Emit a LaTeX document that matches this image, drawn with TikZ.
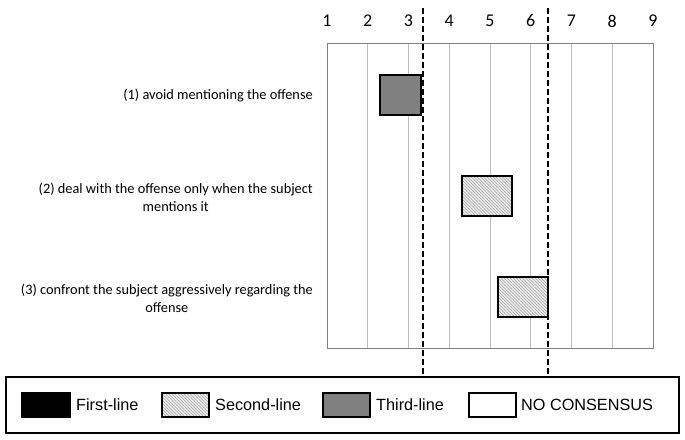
\documentclass[tikz,border=0pt]{standalone}
\usepackage{fontspec}
\setmainfont{Carlito}
\newfontfamily\legendfont{Liberation Sans}
\usetikzlibrary{patterns.meta}
\begin{document}
\begin{tikzpicture}[x=1bp,y=-1bp,
  gridline/.style={draw=black!25, line width=0.8bp},
  frameline/.style={draw=black!50, line width=1bp},
  numlabel/.style={font=\fontsize{18}{21}\selectfont, inner sep=0pt},
  rowlabel/.style={font=\fontsize{14.4}{18}\selectfont, align=center, anchor=east, inner sep=0pt},
  cutline/.style={line width=1.8bp, dash pattern=on 6bp off 3bp},
  thirdbox/.style={draw=black, line width=2bp, fill=black!50},
  secondbox/.style={draw=black, line width=2bp, preaction={fill=black!8},
     pattern={Lines[angle=-45,distance=2.2bp,line width=0.35bp]}, pattern color=black!45},
  firstbox/.style={draw=black, line width=1.5bp, fill=black},
  nobox/.style={draw=black, line width=1.5bp, fill=white},
  legtext/.style={font=\legendfont\fontsize{16.3}{19}\selectfont, anchor=west, inner sep=0pt},
  legframe/.style={draw=black, line width=1.5bp}
]
\useasboundingbox (0,0) rectangle (685,440);
% grid
\foreach \i in {2,...,8} {
  \draw[gridline] ({327+40.75*(\i-1)},44) -- ({327+40.75*(\i-1)},348);
}
\draw[frameline] (327,44) rectangle (653,348);
\foreach \i in {1,...,9} {
  \node[numlabel] (n\i) at ({327+40.75*(\i-1)},21) {\i};
}
% row labels
\node[rowlabel] (r1) at (313,95) {(1) avoid mentioning the offense};
\node[rowlabel] (r2) at (313,197) {(2) deal with the offense only when the subject\\mentions it};
\node[rowlabel] (r3) at (313,298) {(3) confront the subject aggressively regarding the\\offense};
% bars
\draw[thirdbox] (380,75) rectangle (421,115);
\draw[secondbox] (462,176) rectangle (512,216);
\draw[secondbox] (498,277) rectangle (548,317);
% legend
\draw[legframe] (6,377) rectangle (679,433);
\draw[firstbox] (22,393) rectangle (70,417);
\node[legtext] (l1) at (76,405) {First-line};
\draw[secondbox, line width=1.5bp] (162,393) rectangle (209,417);
\node[legtext] (l2) at (215,405) {Second-line};
\draw[thirdbox, line width=1.5bp] (323,393) rectangle (370,417);
\node[legtext] (l3) at (376,405) {Third-line};
\draw[nobox] (469,393) rectangle (516,417);
\node[legtext] (l4) at (521,405) {NO CONSENSUS};
% cut lines
\coordinate (c1t) at (423,8); \coordinate (c1b) at (423,377);
\coordinate (c2t) at (548,8); \coordinate (c2b) at (548,377);
\draw[cutline] (c1t) -- (c1b);
\draw[cutline] (c2t) -- (c2b);
\end{tikzpicture}
\end{document}
